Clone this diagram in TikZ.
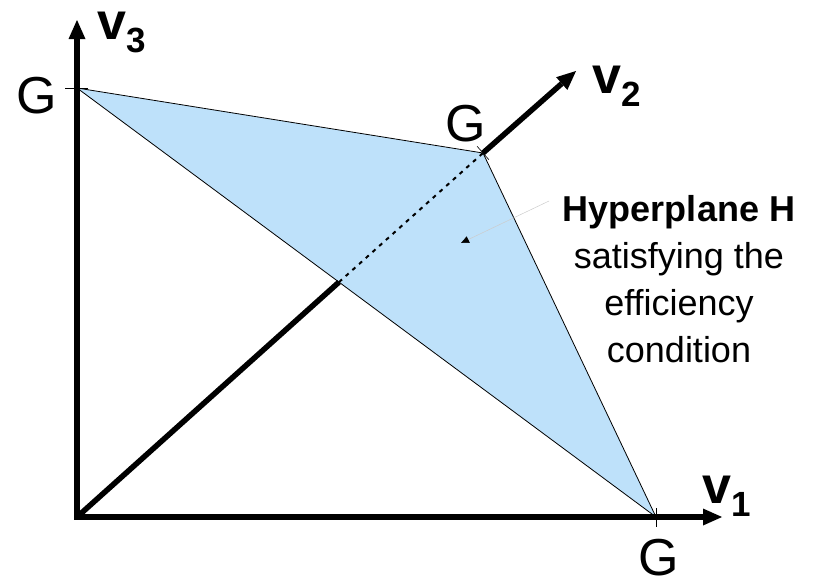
\documentclass[tikz,border=0pt]{standalone}
\usepackage{fontspec}
\setmainfont{Liberation Sans}
\usetikzlibrary{arrows.meta, positioning, calc}
\usepackage{xcolor}
\definecolor{planeBlue}{RGB}{190,225,250}
\tikzset{
    >=Triangle,
    % Axes
    axisTip/.tip={Triangle[length=19pt, width=17pt, line width=0pt]},
    axis/.style={line width=5.5pt, black},
    hidden/.style={line width=2pt, dash pattern=on 4pt off 5pt},
    % Plane
    edge/.style={line width=0.8pt, black},
    tickMark/.style={line width=0.6pt, black},
    % Labels
    gLbl/.style={font=\fontsize{52}{52}\selectfont, inner sep=0pt},
    vLbl/.style={font=\fontsize{52}{52}\selectfont\bfseries, inner sep=0pt, anchor=base west},
    note/.style={font=\fontsize{36}{47}\selectfont, align=center, inner sep=0pt},
    pointer/.style={draw=gray!40, line width=0.5pt, -{Triangle[length=8pt, width=7pt, color=black]}}
}
\newcommand{\axname}[1]{v\raisebox{-13pt}{\fontsize{35}{35}\selectfont #1}}

\begin{document}
\begin{tikzpicture}[x=1pt, y=-1pt]
\useasboundingbox (0,0) rectangle (816,579);

% corners of the plane and axis ends
\coordinate (O) at (77,517);
\coordinate (G1) at (656,517);
\coordinate (G2) at (483,153);
\coordinate (G3) at (77,88);
\coordinate (end1) at (722,517);
\coordinate (end2) at (576,71);
\coordinate (end3) at (77,20);
\coordinate (cross) at (intersection of O--G2 and G3--G1);

\fill[planeBlue] (G3) -- (G2) -- (G1) -- cycle;

% axes
\draw[axis, {axisTip}-{axisTip}] (end3) -- (O) -- (end1);
\draw[axis] (O) -- (cross);
\draw[hidden] (cross) -- (G2);
\draw[axis, -{axisTip}] (G2) -- (end2);

\draw[edge] (G3) -- (G2) -- (G1) -- cycle;

% ticks
\draw[tickMark] ($(G3)+(-12,0)$) -- ($(G3)+(11,0)$);
\draw[tickMark] ($(G1)+(0,-9)$) -- ($(G1)+(0,10)$);
\draw[tickMark] ($(G2)!9pt!90:(end2)$) -- ($(G2)!9pt!-90:(end2)$);

\node[gLbl] (g3) at (37,96) {G};
\node[gLbl] (g2) at (466,124) {G};
\node[gLbl] (g1) at (659,558) {G};

\node[vLbl] (v3) at (97,39) {\axname{3}};
\node[vLbl] (v2) at (592,93) {\axname{2}};
\node[vLbl] (v1) at (702,503) {\axname{1}};

\node[note, anchor=base] (hyp) at (679,362) {{\bfseries Hyperplane H}\\satisfying the\\efficiency\\condition};

\coordinate (p1) at (549,201);
\coordinate (p2) at (461,243);
\draw[pointer] (p1) -- (p2);

\end{tikzpicture}
\end{document}
